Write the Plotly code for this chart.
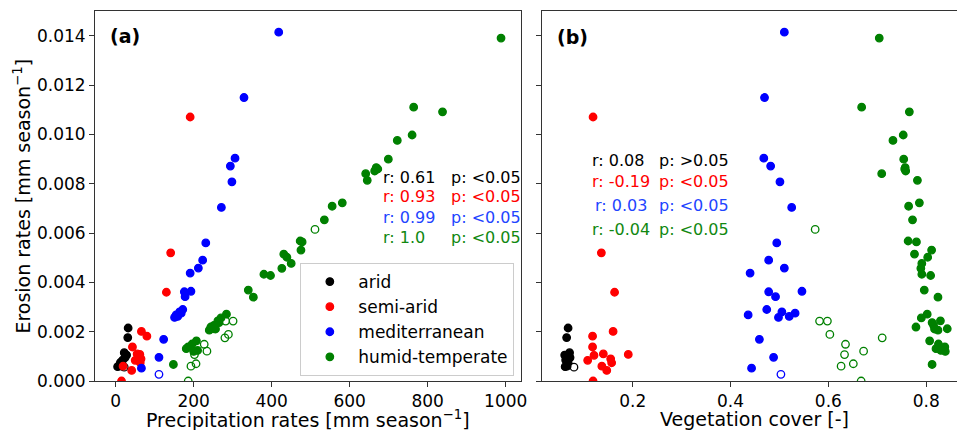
import plotly.graph_objects as go

# ---------------- data ----------------
groups = ["arid", "semi-arid", "mediterranean", "humid-temperate"]
colors = ["#000000", "#ff0000", "#0000ff", "#008000"]
text_colors = ["#000000", "#ff0000", "#1f45ff", "#118811"]

# arid
arid_precip = [32, 31, 22, 28, 24, 18, 12, 5, 15, 22]
arid_veg = [0.068, 0.065, 0.071, 0.061, 0.072, 0.063, 0.068, 0.062, 0.066, 0.080]
arid_eros = [0.00215, 0.00176, 0.00115, 0.00105, 0.00095, 0.00085, 0.00075, 0.00058, 0.00060, 0.00056]
arid_open = [0, 0, 0, 0, 0, 0, 0, 0, 0, 1]

# semi-arid
semi_precip = [191, 141, 130, 66, 80, 43, 55, 62, 60, 65, 50, 63, 19, 41, 15]
semi_veg = [0.119, 0.136, 0.163, 0.160, 0.118, 0.118, 0.140, 0.191, 0.121, 0.155, 0.108, 0.157, 0.137, 0.147, 0.119]
semi_eros = [0.01071, 0.0052, 0.0036, 0.00201, 0.00182, 0.00138, 0.00110, 0.00108, 0.00104, 0.00090,
             0.00084, 0.00074, 0.00060, 0.00043, 0.0]
semi_open = [0] * 15

# mediterranean
med_precip = [418, 329, 306, 294, 298, 271, 231, 223, 212, 191, 176, 193, 178, 172, 164, 168, 155, 159,
              151, 123, 111, 66, 111]
med_veg = [0.510, 0.4695, 0.468, 0.482, 0.501, 0.525, 0.4945, 0.478, 0.510, 0.440, 0.478, 0.546, 0.492,
           0.474, 0.505, 0.532, 0.436, 0.520, 0.498, 0.459, 0.488, 0.443, 0.503]
med_eros = [0.01415, 0.0115, 0.00904, 0.00872, 0.00808, 0.00704, 0.0056, 0.0049, 0.00458, 0.00438,
            0.00362, 0.00364, 0.00342, 0.0029, 0.0028, 0.00275, 0.00268, 0.00262, 0.00258, 0.00169,
            0.00096, 0.00052, 0.00027]
med_open = [0] * 22 + [1]

# humid-temperate
hum_precip = [988, 764, 838, 760, 722, 699, 668, 672, 664, 641, 645, 581, 555, 535, 473, 478, 475, 431,
              439, 450, 426, 380, 397, 340, 353, 284, 270, 262, 265, 252, 244, 252, 256, 240, 207, 196,
              186, 181, 210, 200, 148,
              511, 282, 301, 289, 280, 227, 234, 202, 206, 193, 186]
hum_veg = [0.704, 0.668, 0.7655, 0.753, 0.732, 0.754, 0.757, 0.756, 0.758, 0.709, 0.782, 0.786, 0.764,
           0.772, 0.763, 0.780, 0.811, 0.776, 0.803, 0.791, 0.789, 0.791, 0.809, 0.796, 0.824, 0.802,
           0.790, 0.829, 0.812, 0.815, 0.779, 0.843, 0.817, 0.824, 0.807, 0.825, 0.838, 0.820, 0.830,
           0.839, 0.812,
           0.573, 0.582, 0.598, 0.603, 0.710, 0.635, 0.672, 0.633, 0.651, 0.626, 0.667]
hum_eros = [0.01391, 0.01111, 0.01092, 0.00998, 0.00976, 0.00900, 0.00866, 0.00860, 0.00852, 0.00841,
            0.00814, 0.00723, 0.00709, 0.00654, 0.00568, 0.00564, 0.00531, 0.00515, 0.00502, 0.00477,
            0.00457, 0.00433, 0.00428, 0.00369, 0.00340, 0.00271, 0.00256, 0.00244, 0.00237, 0.00226,
            0.00219, 0.00212, 0.00211, 0.00206, 0.00163, 0.00150, 0.00138, 0.00131, 0.00124, 0.00120,
            0.00067,
            0.00615, 0.00243, 0.00243, 0.00189, 0.00175, 0.00149, 0.00121, 0.00107, 0.00070, 0.00060, 0.0]
hum_open = [0] * 41 + [1] * 11

precip = [arid_precip, semi_precip, med_precip, hum_precip]
veg = [arid_veg, semi_veg, med_veg, hum_veg]
eros = [arid_eros, semi_eros, med_eros, hum_eros]
hollow = [arid_open, semi_open, med_open, hum_open]

stats_a_r = ["r: 0.61", "r: 0.93", "r: 0.99", "r: 1.0"]
stats_a_p = ["p: <0.05", "p: <0.05", "p: <0.05", "p: <0.05"]
stats_b_r = ["r: 0.08", "r: -0.19", "r: 0.03", "r: -0.04"]
stats_b_p = ["p: >0.05", "p: <0.05", "p: <0.05", "p: <0.05"]

x_ticks_a = [0, 200, 400, 600, 800, 1000]
x_ticks_b = [0.2, 0.4, 0.6, 0.8]
y_ticks = [0.000, 0.002, 0.004, 0.006, 0.008, 0.010, 0.012, 0.014]

# ---------------- layout geometry (pixels) ----------------
W, H = 965, 430
L, R, T, B = 95, 964, 11, 381
pw, ph = R - L, B - T


def px_x(p):
    return (p - L) / pw


def px_y(p):
    return (B - p) / ph


FONT = "DejaVu Sans"
fig = go.Figure()

for i, g in enumerate(groups):
    syms = ["circle-open" if h else "circle" for h in hollow[i]]
    mk = dict(color=colors[i], size=7.5, symbol=syms, line=dict(color=colors[i], width=1.3))
    fig.add_trace(go.Scatter(x=precip[i], y=eros[i], mode="markers", name=g, legendgroup=g,
                             marker=mk, xaxis="x", yaxis="y"))
    fig.add_trace(go.Scatter(x=veg[i], y=eros[i], mode="markers", name=g, legendgroup=g,
                             showlegend=False, marker=mk, xaxis="x2", yaxis="y2"))

axis_common = dict(showgrid=False, zeroline=False, showline=True, linecolor="#333333", linewidth=1,
                   ticks="outside", ticklen=5, tickwidth=1, tickcolor="#333333",
                   tickfont=dict(family=FONT, size=17, color="#000000"))

fig.update_layout(
    width=W, height=H,
    margin=dict(l=L, r=W - R, t=T, b=H - B, pad=0),
    paper_bgcolor="white", plot_bgcolor="white",
    font=dict(family=FONT, size=17, color="#000000"),
    xaxis=dict(domain=[0, (524 - L) / pw], range=[-53, 1038], tickvals=x_ticks_a, mirror=True,
               anchor="y", **axis_common),
    xaxis2=dict(domain=[(546 - L) / pw, 1], range=[0.0154, 0.8629], tickvals=x_ticks_b,
                tickformat=".1f", mirror=True, anchor="y2", **axis_common),
    yaxis=dict(domain=[0, 1], range=[0, 0.01501], tickvals=y_ticks, tickformat=".3f", mirror=True,
               anchor="x", **axis_common),
    yaxis2=dict(domain=[0, 1], range=[0, 0.01501], tickvals=y_ticks, showticklabels=False,
                mirror=False, anchor="x2", **axis_common),
    legend=dict(x=px_x(302), y=px_y(263), xanchor="left", yanchor="top",
                bordercolor="#cccccc", borderwidth=1, bgcolor="rgba(255,255,255,0.8)",
                font=dict(family=FONT, size=17), itemwidth=47, tracegroupgap=0,
                traceorder="grouped"),
    showlegend=True,
)

ann = []
# panel labels
ann.append(dict(text="<b>(a)</b>", x=px_x(108), y=px_y(36), xanchor="left", yanchor="middle"))
ann.append(dict(text="<b>(b)</b>", x=px_x(559), y=px_y(37), xanchor="left", yanchor="middle"))
for a in ann:
    a.update(xref="paper", yref="paper", showarrow=False, font=dict(family=FONT, size=19, color="#000"))

rows_a = [177, 196.5, 217, 238]
rows_b = [160.5, 181.5, 206, 230]
rx_b = [594, 594, 597, 594]
for i in range(4):
    f = dict(family=FONT, size=16, color=text_colors[i])
    ann.append(dict(text=stats_a_r[i], x=px_x(383), y=px_y(rows_a[i]), xanchor="left", yanchor="middle",
                    xref="paper", yref="paper", showarrow=False, font=f))
    ann.append(dict(text=stats_a_p[i], x=px_x(452), y=px_y(rows_a[i]), xanchor="left", yanchor="middle",
                    xref="paper", yref="paper", showarrow=False, font=f))
    ann.append(dict(text=stats_b_r[i], x=px_x(rx_b[i]), y=px_y(rows_b[i]), xanchor="left",
                    yanchor="middle", xref="paper", yref="paper", showarrow=False, font=f))
    ann.append(dict(text=stats_b_p[i], x=px_x(662), y=px_y(rows_b[i]), xanchor="left", yanchor="middle",
                    xref="paper", yref="paper", showarrow=False, font=f))

# axis titles
ann.append(dict(text="Precipitation rates [mm season<sup>−1</sup>]", x=px_x(309.5), y=px_y(419),
                xanchor="center", yanchor="middle", xref="paper", yref="paper", showarrow=False,
                font=dict(family=FONT, size=19, color="#000")))
ann.append(dict(text="Vegetation cover [-]", x=px_x(760), y=px_y(419),
                xanchor="center", yanchor="middle", xref="paper", yref="paper", showarrow=False,
                font=dict(family=FONT, size=19, color="#000")))
ann.append(dict(text="Erosion rates [mm season<sup>−1</sup>]", x=px_x(21), y=px_y(196),
                xanchor="center", yanchor="middle", textangle=-90, xref="paper", yref="paper",
                showarrow=False, font=dict(family=FONT, size=19, color="#000")))

fig.update_layout(annotations=ann)
fig.write_html("out.html", config={"displayModeBar": False},
               post_script="document.body.style.margin='0';")
